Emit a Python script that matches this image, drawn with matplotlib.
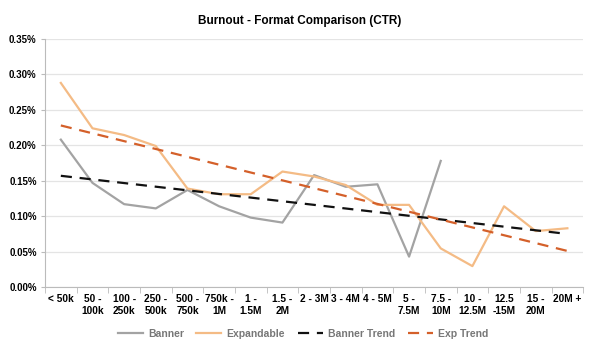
import matplotlib.pyplot as plt
import numpy as np

plt.rcParams['font.family'] = ['Liberation Sans', 'DejaVu Sans']

categories = ['< 50k', '50 -\n100k', '100 -\n250k', '250 -\n500k', '500 -\n750k',
              '750k -\n1M', '1 -\n1.5M', '1.5 -\n2M', '2 - 3M', '3 - 4M', '4 - 5M',
              '5 -\n7.5M', '7.5 -\n10M', '10 -\n12.5M', '12.5\n-15M', '15 -\n20M', '20M +']

# CTR in percent
banner = [0.208, 0.147, 0.117, 0.111, 0.137, 0.114, 0.098, 0.091, 0.158,
          0.1415, 0.145, 0.043, 0.178]
expandable = [0.288, 0.224, 0.2145, 0.199, 0.139, 0.131, 0.131, 0.163, 0.156,
              0.144, 0.116, 0.116, 0.0546, 0.0296, 0.114, 0.079, 0.083]
banner_trend = [0.157, 0.075]
exp_trend = [0.228, 0.051]

fig = plt.figure(figsize=(6, 3.48), dpi=100)
ax = fig.add_axes([0.075, 0.175, 0.897, 0.713])

x = np.arange(len(categories))
ax.plot(x[:len(banner)], banner, color='#a3a3a3', linewidth=1.6, label='Banner')
ax.plot(x, expandable, color='#f4bb85', linewidth=1.6, label='Expandable')
ax.plot([x[0], x[-1]], banner_trend, color='#111111', linewidth=1.6,
        dashes=(5, 3.5), label='Banner Trend')
ax.plot([x[0], x[-1]], exp_trend, color='#d4602a', linewidth=1.6,
        dashes=(5, 3.5), label='Exp Trend')

ax.set_xlim(-0.5, len(categories) - 0.5)
ax.set_ylim(0, 0.35)
ax.set_yticks(np.arange(0, 0.351, 0.05))
ax.set_yticklabels(['%.2f%%' % v for v in np.arange(0, 0.351, 0.05)],
                   fontsize=7, fontweight='bold')
ax.set_xticks(x)
ax.set_xticklabels(categories, fontsize=7.3, fontweight='bold', linespacing=1.3)
ax.set_xticks(np.arange(-0.5, len(categories)), minor=True)
ax.tick_params(axis='x', which='major', length=0, pad=5)
ax.tick_params(axis='x', which='minor', length=4, color='#bbbbbb')
ax.tick_params(axis='y', length=3, color='#bbbbbb', pad=3)

ax.grid(axis='y', color='#e4e4e4', linewidth=0.9)
ax.set_axisbelow(True)
for side in ['top', 'right']:
    ax.spines[side].set_visible(False)
for side in ['left', 'bottom']:
    ax.spines[side].set_color('#bbbbbb')

ax.set_title('Burnout - Format Comparison (CTR)', fontsize=8.5, fontweight='bold',
             pad=11, x=0.474)

leg = fig.legend(loc='lower center', bbox_to_anchor=(0.505, 0.0), ncol=4, frameon=False,
                 fontsize=7.5, handlelength=2.4, columnspacing=1.2, handletextpad=0.5)
for t in leg.get_texts():
    t.set_color('#777777')
    t.set_fontweight('bold')

fig.savefig('out.png', dpi=100)
